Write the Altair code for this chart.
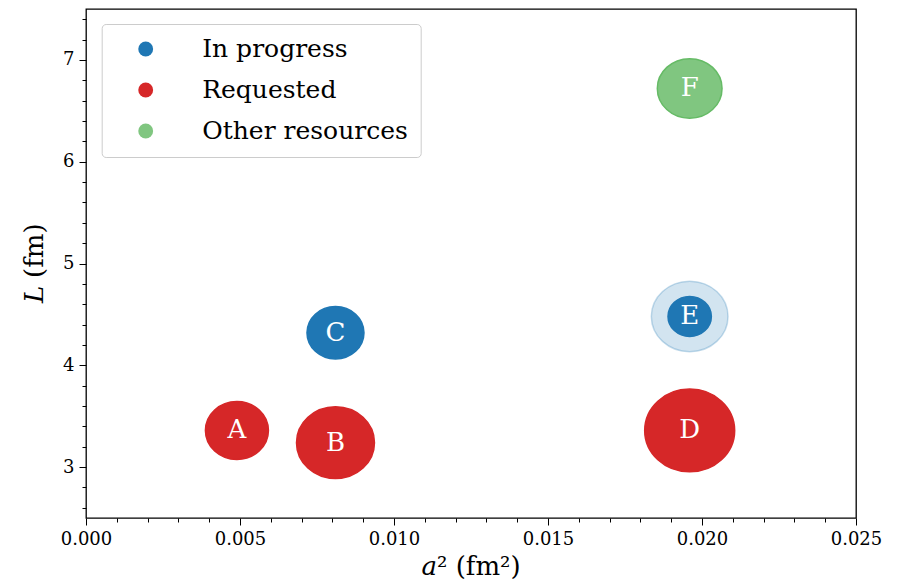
import altair as alt
import pandas as pd

# ---------------- data ----------------
labels = ["A", "B", "C", "D", "E", "F"]
a2 = [0.0049, 0.0081, 0.0081, 0.0196, 0.0196, 0.0196]
L_fm = [3.36, 3.24, 4.32, 3.36, 4.48, 6.72]
status = ["Requested", "Requested", "In progress", "Requested", "In progress", "Other resources"]
cost = [39.7, 60.8, 32.5, 81.0, 18.8, 41.9]

halo_a2 = [0.0196]
halo_L = [4.48]
halo_cost = [58.8]

status_order = ["In progress", "Requested", "Other resources"]
status_fill = ["#1f77b4", "#d62728", "#80c680"]
status_edge = ["#1f77b4", "#d62728", "#66bb66"]

x_major = [0.0, 0.005, 0.010, 0.015, 0.020, 0.025]
x_minor = [0.001, 0.002, 0.003, 0.004, 0.006, 0.007, 0.008, 0.009,
           0.011, 0.012, 0.013, 0.014, 0.016, 0.017, 0.018, 0.019,
           0.021, 0.022, 0.023, 0.024]
y_major = [3, 4, 5, 6, 7]
y_minor = [2.6, 2.8, 3.2, 3.4, 3.6, 3.8, 4.2, 4.4, 4.6, 4.8, 5.2, 5.4, 5.6, 5.8,
           6.2, 6.4, 6.6, 6.8, 7.2, 7.4]

df = pd.DataFrame({"label": labels, "a2": a2, "L": L_fm, "status": status, "cost": cost})
halo_df = pd.DataFrame({"a2": halo_a2, "L": halo_L, "cost": halo_cost})
one = pd.DataFrame({"k": [0]})

FONT = "DejaVu Serif"
ELLIPSE = "M -1 0 A 1 0.92 0 1 1 1 0 A 1 0.92 0 1 1 -1 0 Z"

xs = alt.Scale(domain=[0, 0.025], nice=False, zero=False)
ys = alt.Scale(domain=[2.5, 7.5], nice=False, zero=False)
size_scale = alt.Scale(type="linear", domain=[0, 100], range=[0, 10000], zero=True)
fill_scale = alt.Scale(domain=status_order, range=status_fill)
edge_scale = alt.Scale(domain=status_order, range=status_edge)

axis_common = dict(domain=False, grid=False, title=None, tickColor="black", tickWidth=1,
                   labelFont=FONT, labelFontSize=18, labelColor="black")

x_major_axis = alt.Axis(orient="bottom", values=x_major, format=".3f", tickSize=7,
                        labelPadding=5, labelFlush=False, **axis_common)
y_major_axis = alt.Axis(orient="left", values=y_major, format="d", tickSize=7,
                        labelPadding=5, **axis_common)
x_minor_axis = alt.Axis(orient="bottom", values=x_minor, labels=False, tickSize=4,
                        domain=False, grid=False, title=None, tickColor="black", tickWidth=1)
y_minor_axis = alt.Axis(orient="left", values=y_minor, labels=False, tickSize=4,
                        domain=False, grid=False, title=None, tickColor="black", tickWidth=1)

halo = alt.Chart(halo_df).mark_point(
    filled=True, shape=ELLIPSE, fill="#1f77b4", fillOpacity=0.2, opacity=1,
    stroke="#1f77b4", strokeOpacity=0.25, strokeWidth=1.5
).encode(
    x=alt.X("a2:Q", scale=xs, axis=x_major_axis),
    y=alt.Y("L:Q", scale=ys, axis=y_major_axis),
    size=alt.Size("cost:Q", scale=size_scale, legend=None),
)

bubbles = alt.Chart(df).mark_point(filled=True, shape=ELLIPSE, strokeWidth=1.5, opacity=1).encode(
    x=alt.X("a2:Q", scale=xs, axis=x_minor_axis),
    y=alt.Y("L:Q", scale=ys, axis=y_minor_axis),
    size=alt.Size("cost:Q", scale=size_scale, legend=None),
    color=alt.Color(
        "status:N", scale=fill_scale, sort=status_order,
        legend=alt.Legend(
            orient="none", legendX=15.7, legendY=15, title=None,
            labelFont=FONT, labelFontSize=25, labelColor="black", labelLimit=400,
            symbolType="circle", symbolSize=220, symbolStrokeWidth=0, symbolOpacity=1,
            rowPadding=15, padding=12.5, symbolOffset=19, labelOffset=44,
            fillColor="rgba(255,255,255,0.8)", strokeColor="#cccccc", cornerRadius=4,
        ),
    ),
    stroke=alt.Stroke("status:N", scale=edge_scale, sort=status_order, legend=None),
)

texts = alt.Chart(df).mark_text(
    font=FONT, fontSize=26, color="white", align="center", baseline="middle"
).encode(
    x=alt.X("a2:Q", scale=xs, axis=None),
    y=alt.Y("L:Q", scale=ys, axis=None),
    text="label:N",
)

xt1 = alt.Chart(one).mark_text(
    text="a", font=FONT, fontSize=26, fontStyle="italic", align="right",
    baseline="alphabetic", color="black"
).encode(x=alt.value(351), y=alt.value(566))
xt2 = alt.Chart(one).mark_text(
    text="² (fm²)", font=FONT, fontSize=26, align="left",
    baseline="alphabetic", color="black"
).encode(x=alt.value(351), y=alt.value(566))

yt1 = alt.Chart(one).mark_text(
    text="L", font=FONT, fontSize=26, fontStyle="italic", align="left", angle=270,
    baseline="alphabetic", color="black"
).encode(x=alt.value(-43), y=alt.value(294))
yt2 = alt.Chart(one).mark_text(
    text="(fm)", font=FONT, fontSize=26, align="left", angle=270,
    baseline="alphabetic", color="black"
).encode(x=alt.value(-43), y=alt.value(269))

chart = alt.layer(halo, bubbles, texts, xt1, xt2, yt1, yt2).resolve_axis(
    x="independent", y="independent"
).properties(
    width=770, height=509,
    autosize=alt.AutoSizeParams(type="none"),
    padding={"left": 86, "top": 9, "right": 41, "bottom": 67},
).configure_view(stroke="black", strokeWidth=1.3)

chart.save("out.html", embed_options={"renderer": "svg", "actions": False})
